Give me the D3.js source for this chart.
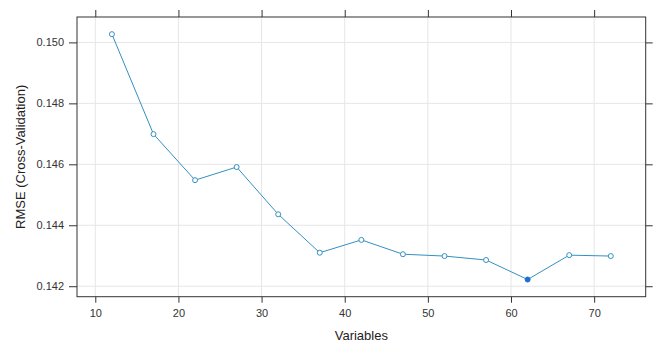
<!DOCTYPE html>
<meta charset="UTF-8">
<style>
body { margin: 0; background: #fff; }
text { font-family: Arial, "Liberation Sans", sans-serif; fill: #222; }
.grid line { stroke: #e6e6e6; stroke-width: 1px; }
.axis path { display: none; }
.axis line { stroke: #333; }
.axis text { font-size: 11px; fill: #333; }
</style>
<body>
<script src="https://cdnjs.cloudflare.com/ajax/libs/d3/7.8.5/d3.min.js"></script>
<script>
// data
const variables = [12, 17, 22, 27, 32, 37, 42, 47, 52, 57, 62, 67, 72];
const rmse = [0.15027, 0.14699, 0.14548, 0.14591, 0.14436, 0.14310, 0.14352,
              0.14305, 0.14299, 0.14286, 0.14222, 0.14302, 0.14299];
const xTicks = [10, 20, 30, 40, 50, 60, 70];
const yTicks = [0.142, 0.144, 0.146, 0.148, 0.150];

const width = 657, height = 342;
const panel = {left: 77, top: 17, right: 645.7, bottom: 296.7};

const svg = d3.select("body").append("svg")
    .attr("width", width)
    .attr("height", height);

// lattice style padding of 7% on each side
function padded(ext) {
  const d = (ext[1] - ext[0]) * 0.07;
  return [ext[0] - d, ext[1] + d];
}

const x = d3.scaleLinear()
    .domain(padded(d3.extent(variables)))
    .range([panel.left, panel.right]);
const y = d3.scaleLinear()
    .domain(padded(d3.extent(rmse)))
    .range([panel.bottom, panel.top]);

// grid
const grid = svg.append("g").attr("class", "grid");
grid.selectAll("line.v").data(xTicks).join("line")
    .attr("x1", d => x(d)).attr("x2", d => x(d))
    .attr("y1", panel.top).attr("y2", panel.bottom);
grid.selectAll("line.h").data(yTicks).join("line")
    .attr("y1", d => y(d)).attr("y2", d => y(d))
    .attr("x1", panel.left).attr("x2", panel.right);

// axes (ticks on all four sides, labels only bottom/left)
svg.append("g").attr("class", "axis")
    .attr("transform", `translate(0,${panel.bottom})`)
    .call(d3.axisBottom(x).tickValues(xTicks).tickSize(6).tickPadding(7).tickFormat(d3.format("d")));
svg.append("g").attr("class", "axis")
    .attr("transform", `translate(0,${panel.top})`)
    .call(d3.axisTop(x).tickValues(xTicks).tickSize(7).tickFormat(""));
svg.append("g").attr("class", "axis")
    .attr("transform", `translate(${panel.left},0)`)
    .call(d3.axisLeft(y).tickValues(yTicks).tickSize(8).tickPadding(5).tickFormat(d3.format(".3f")));
svg.append("g").attr("class", "axis")
    .attr("transform", `translate(${panel.right},0)`)
    .call(d3.axisRight(y).tickValues(yTicks).tickSize(7).tickFormat(""));

// panel border
svg.append("rect")
    .attr("x", panel.left).attr("y", panel.top)
    .attr("width", panel.right - panel.left)
    .attr("height", panel.bottom - panel.top)
    .attr("fill", "none")
    .attr("stroke", "#333")
    .attr("stroke-width", 1);

// line + points
const pts = variables.map((v, i) => ({v: v, r: rmse[i]}));
const best = d3.least(pts, d => d.r);

svg.append("path")
    .datum(pts)
    .attr("fill", "none")
    .attr("stroke", "#3590c0")
    .attr("stroke-width", 1)
    .attr("d", d3.line().x(d => x(d.v)).y(d => y(d.r)));

svg.selectAll("circle.pt").data(pts).join("circle")
    .attr("class", "pt")
    .attr("cx", d => x(d.v))
    .attr("cy", d => y(d.r))
    .attr("r", 2.5)
    .attr("fill", d => d === best ? "#1a6fd0" : "#fff")
    .attr("stroke", d => d === best ? "#1a6fd0" : "#3590c0")
    .attr("stroke-width", 1);

// axis titles
svg.append("text")
    .attr("x", (panel.left + panel.right) / 2)
    .attr("y", 340)
    .attr("text-anchor", "middle")
    .style("font-size", "13px")
    .text("Variables");

svg.append("text")
    .attr("transform", `translate(25,${(panel.top + panel.bottom) / 2}) rotate(-90)`)
    .attr("text-anchor", "middle")
    .style("font-size", "13px")
    .text("RMSE (Cross-Validation)");
</script>
</body>
